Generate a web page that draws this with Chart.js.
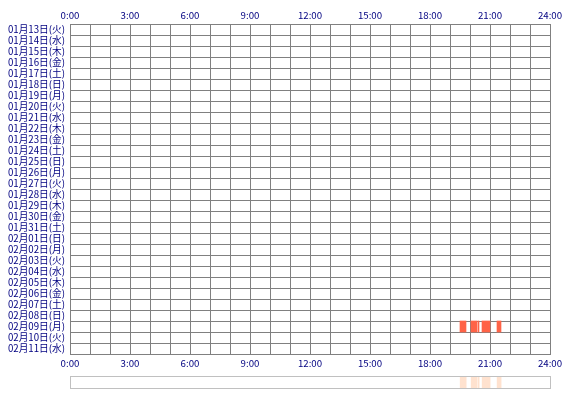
<!DOCTYPE html>
<html><head><meta charset="utf-8">
<script src="https://cdn.jsdelivr.net/npm/chart.js@4"></script>
<style>
html,body{margin:0;padding:0;background:#fff;}
#wrap{position:relative;width:570px;height:400px;}
#main{position:absolute;left:0;top:0;}
#stripBox{position:absolute;left:70px;top:376px;width:479px;height:11px;border:1px solid #c0c0c0;}
#strip{position:absolute;left:0;top:0;}
</style></head>
<body>
<div id="wrap">
<canvas id="main" width="570" height="400"></canvas>
<div id="stripBox"><canvas id="strip" width="479" height="11"></canvas></div>
</div>
<script>
const days = ['01月13日(火)','01月14日(水)','01月15日(木)','01月16日(金)','01月17日(土)','01月18日(日)','01月19日(月)','01月20日(火)','01月21日(水)','01月22日(木)','01月23日(金)','01月24日(土)','01月25日(日)','01月26日(月)','01月27日(火)','01月28日(水)','01月29日(木)','01月30日(金)','01月31日(土)','02月01日(日)','02月02日(月)','02月03日(火)','02月04日(水)','02月05日(木)','02月06日(金)','02月07日(土)','02月08日(日)','02月09日(月)','02月10日(火)','02月11日(水)'];
const tickLabels = ['0:00','3:00','6:00','9:00','12:00','15:00','18:00','21:00','24:00'];
const sessionDays = ['02月09日(月)','02月09日(月)','02月09日(月)','02月09日(月)','02月09日(月)'];
const sessionStarts = [19.5, 20.05, 20.4, 20.6, 21.35];
const sessionEnds = [19.8, 20.35, 20.45, 21.0, 21.55];

const FONT = {family:"'Noto Sans CJK JP', 'DejaVu Sans', sans-serif", size:9.7};
const TXT = '#000080';
const GRID = '#808080';
const hourLabel = v => (v % 3 === 0 ? tickLabels[v / 3] : '');

new Chart(document.getElementById('main'), {
  type: 'bar',
  data: {
    labels: days,
    datasets: [{
      data: sessionStarts.map((s, i) => ({y: sessionDays[i], x: [s, sessionEnds[i]]})),
      backgroundColor: '#ff6347',
      borderWidth: 0,
      barPercentage: 1,
      categoryPercentage: 1,
      grouped: false
    }]
  },
  options: {
    indexAxis: 'y',
    responsive: false,
    animation: false,
    devicePixelRatio: 1,
    layout: {padding: {left: 0, right: 20, top: 0, bottom: 30}},
    plugins: {legend: {display: false}, tooltip: {enabled: false}},
    scales: {
      x: {
        type: 'linear', position: 'bottom', min: 0, max: 24,
        ticks: {stepSize: 1, autoSkip: false, maxRotation: 0, color: TXT, font: FONT, padding: 4, callback: hourLabel},
        grid: {color: GRID, drawTicks: false, lineWidth: 1},
        border: {color: GRID},
        afterFit: s => { s.height = 16; }
      },
      x2: {
        type: 'linear', position: 'top', min: 0, max: 24,
        ticks: {stepSize: 1, autoSkip: false, maxRotation: 0, color: TXT, font: FONT, padding: 3, callback: hourLabel},
        grid: {display: false, drawTicks: false},
        border: {display: false},
        afterFit: s => { s.height = 24; }
      },
      y: {
        type: 'category',
        ticks: {color: TXT, font: FONT, padding: 5, autoSkip: false},
        grid: {color: GRID, drawTicks: false, offset: true, lineWidth: 1},
        border: {color: GRID},
        afterFit: s => { s.width = 70; }
      }
    }
  }
});

new Chart(document.getElementById('strip'), {
  type: 'bar',
  data: {
    labels: ['all'],
    datasets: [{
      data: sessionStarts.map((s, i) => ({y: 'all', x: [s, sessionEnds[i]]})),
      backgroundColor: '#ffe2cf',
      borderWidth: 0,
      barPercentage: 1,
      categoryPercentage: 1,
      grouped: false
    }]
  },
  options: {
    indexAxis: 'y',
    responsive: false,
    animation: false,
    devicePixelRatio: 1,
    layout: {padding: 0},
    plugins: {legend: {display: false}, tooltip: {enabled: false}},
    scales: {
      x: {type: 'linear', min: 0, max: 24, display: false},
      y: {type: 'category', display: false}
    }
  }
});
</script>
</body></html>
